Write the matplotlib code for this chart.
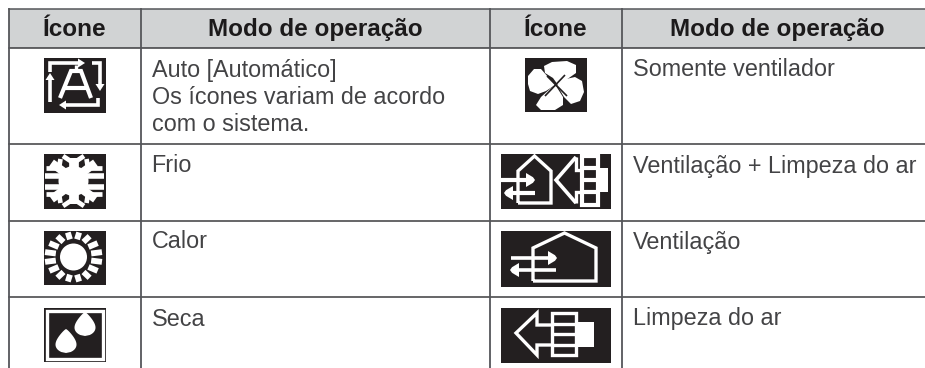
#!/usr/bin/env python3
import numpy as np
import matplotlib
matplotlib.use("Agg")
import matplotlib.pyplot as plt
from matplotlib.patches import Rectangle, Circle, Polygon

headers = ["Ícone", "Modo de operação", "Ícone", "Modo de operação"]
left_modes = [
    ["Auto [Automático]", "Os ícones variam de acordo", "com o sistema."],
    ["Frio"],
    ["Calor"],
    ["Seca"],
]
right_modes = [
    ["Somente ventilador"],
    ["Ventilação + Limpeza do ar"],
    ["Ventilação"],
    ["Limpeza do ar"],
]

DARK = "#231f20"
LINE = "#55565a"
TEXT = "#434345"
FONT = "Liberation Sans"

col_x = [8.5, 141, 489.5, 622]
row_y = [47.5, 144, 220.5, 297]
baselines = [76.5, 172.5, 248.5, 325.5]
header_centers = [75, 315, 556, 777.5]
LINE_STEP = 27.4


def setup():
    fig = plt.figure(figsize=(9.25, 3.68), dpi=100)
    ax = fig.add_axes([0, 0, 1, 1])
    ax.set_xlim(0, 925)
    ax.set_ylim(368, 0)
    ax.axis("off")
    return fig, ax


def seg(ax, pts, lw=2.2, color="white", clip=None):
    pts = np.array(pts, dtype=float)
    ln, = ax.plot(pts[:, 0], pts[:, 1], color=color, lw=lw, solid_capstyle="butt",
                  solid_joinstyle="miter", zorder=4)
    if clip is not None:
        ln.set_clip_path(clip)


def blob(ax, pts, color="white"):
    ax.add_patch(Polygon(pts, closed=True, color=color, lw=0, zorder=4))


def back(ax, x0, y0, x1, y1):
    r = Rectangle((x0, y0), x1 - x0, y1 - y0, color=DARK, lw=0, zorder=3)
    ax.add_patch(r)
    return r


def head_right(ax, x, y, s=7):
    blob(ax, [(x - s, y - s), (x, y - s * 0.4), (x + 2, y), (x, y + s * 0.4), (x - s, y + s)])


def head_left(ax, x, y, s=7):
    blob(ax, [(x + s, y - s), (x, y - s * 0.4), (x - 2, y), (x, y + s * 0.4), (x + s, y + s)])


def icon_auto(ax):
    back(ax, 44, 58, 106, 113)
    seg(ax, [(50, 72), (50, 63), (80, 63)], lw=2.6)
    blob(ax, [(78, 58.5), (85, 63), (78, 67.5)])
    seg(ax, [(92, 63), (100, 63), (100, 86)], lw=2.6)
    blob(ax, [(95.5, 84), (100, 91), (104.5, 84)])
    seg(ax, [(98, 98), (98, 105), (64, 105)], lw=2.6)
    blob(ax, [(66, 100.5), (59, 105), (66, 109.5)])
    seg(ax, [(50, 102), (50, 78)], lw=2.6)
    blob(ax, [(45.5, 80), (50, 73), (54.5, 80)])
    seg(ax, [(60, 98), (71, 71), (81, 71), (91, 98)], lw=3)
    seg(ax, [(65, 88), (86, 88)], lw=3)
    seg(ax, [(76, 65), (76, 71)], lw=2.4)


def icon_snow(ax):
    back(ax, 44, 154, 106, 209)
    ax.add_patch(Circle((73.5, 181), 15, color="white", lw=0, zorder=4))
    for x0, x1 in [(45, 62), (85, 104)]:
        seg(ax, [(x0, 175.5), (x1, 175.5)], lw=4)
        seg(ax, [(x0, 187), (x1, 187)], lw=4)
    seg(ax, [(73.5, 158), (73.5, 172)], lw=7)
    seg(ax, [(73.5, 190), (73.5, 204)], lw=7)
    seg(ax, [(63, 156), (73.5, 163), (84, 156)], lw=3.4)
    seg(ax, [(63, 206), (73.5, 199), (84, 206)], lw=3.4)
    for sx in (-1, 1):
        for sy in (-1, 1):
            seg(ax, [(73.5 + sx * 8, 181 + sy * 8), (73.5 + sx * 22, 181 + sy * 18)], lw=6)
            seg(ax, [(73.5 + sx * 13, 181 + sy * 22), (73.5 + sx * 15, 181 + sy * 10)], lw=3.4)
            seg(ax, [(73.5 + sx * 28, 181 + sy * 13), (73.5 + sx * 17, 181 + sy * 13)], lw=3.4)


def icon_sun(ax):
    r = back(ax, 44, 231, 106, 285)
    ax.add_patch(Circle((73.5, 257), 13.5, color="white", lw=0, zorder=4))
    for a in np.deg2rad(np.arange(11.25, 360, 22.5)):
        seg(ax, [(73.5 + 18 * np.cos(a), 257 + 18 * np.sin(a)),
                 (73.5 + 29 * np.cos(a), 257 + 25 * np.sin(a))], lw=4.2, clip=r)


def drop(ax, cx, top, w, h):
    y = np.linspace(0, 1, 25)
    half = w / 2 * np.sqrt(np.clip(np.sin(np.pi * y ** 1.6), 0, 1))
    pts = [(cx + a, top + b * h) for a, b in zip(half, y)]
    pts += [(cx - a, top + b * h) for a, b in zip(half[::-1], y[::-1])]
    blob(ax, pts)


def icon_dry(ax):
    back(ax, 44, 308, 106, 362)
    ax.add_patch(Rectangle((47.3, 311.3), 55.4, 47.4, fill=False, ec="white", lw=2.4, zorder=4))
    drop(ax, 66, 329, 21, 24)
    drop(ax, 85, 312, 21, 24)


def icon_fan(ax):
    back(ax, 525, 58, 587, 112)
    blob(ax, [(544, 66), (552, 62), (567, 61), (576, 65), (576, 73), (566, 80), (558, 85), (553, 78), (545, 73)])
    blob(ax, [(528, 76), (534, 69), (541, 69), (548, 77), (555, 85), (546, 91), (538, 94), (530, 91), (528, 84)])
    blob(ax, [(584, 92), (580, 101), (571, 104), (564, 97), (557, 85), (566, 79), (575, 77), (582, 81)])
    blob(ax, [(536, 105), (541, 97), (551, 88), (556, 86), (563, 97), (563, 105), (555, 110), (541, 110)])
    seg(ax, [(547, 76), (567, 96)], lw=1.2, color=DARK)
    seg(ax, [(565, 75), (545, 96)], lw=1.2, color=DARK)


def house(ax, x0, x1, roof, peak, bottom, lw=2.4):
    mid = (x0 + x1) / 2
    seg(ax, [(x0, bottom), (x0, roof), (mid, peak), (x1, roof), (x1, bottom), (x0, bottom)], lw=lw)


def filter_box(ax, x0, x1, y0, y1, dividers, lw=2.4):
    ax.add_patch(Rectangle((x0, y0), x1 - x0, y1 - y0, fill=False, ec="white", lw=lw, zorder=4))
    for y in dividers:
        seg(ax, [(x0, y), (x1, y)], lw=lw)


def icon_vent_clean(ax):
    back(ax, 501, 154, 611, 209)
    house(ax, 518, 551, 171, 156, 203)
    seg(ax, [(501, 180), (530, 180)], lw=3)
    head_right(ax, 533, 180)
    seg(ax, [(510, 193), (535, 193)], lw=3)
    head_left(ax, 506, 193)
    seg(ax, [(576, 157), (556, 180), (576, 203)], lw=2.6)
    seg(ax, [(576, 157), (576, 170), (582, 170)], lw=2.4)
    seg(ax, [(576, 203), (576, 192), (582, 192)], lw=2.4)
    filter_box(ax, 582, 598, 156, 205, [168, 180, 192], lw=3)
    ax.add_patch(Rectangle((598, 168), 10, 24, color="white", lw=0, zorder=4))


def icon_vent(ax):
    back(ax, 501, 231, 611, 287)
    house(ax, 533, 596, 248, 233, 281)
    seg(ax, [(511, 258), (552, 258)], lw=2.6)
    head_right(ax, 555, 258)
    seg(ax, [(517, 270), (556, 270)], lw=2.6)
    head_left(ax, 512, 270)


def icon_clean(ax):
    back(ax, 501, 308, 611, 363)
    seg(ax, [(552, 325), (537, 325), (537, 313), (516, 333), (537, 355), (537, 345), (552, 345)], lw=2.4)
    filter_box(ax, 552, 576, 313, 355, [324, 334, 345])
    ax.add_patch(Rectangle((577, 322), 17, 25, color="white", lw=0, zorder=4))


def draw_table(ax):
    ax.add_patch(Rectangle((col_x[0], 9), 925 - col_x[0], row_y[0] - 9, color="#d1d3d4", lw=0, zorder=1))
    ax.plot([col_x[0], 925], [9, 9], color=LINE, lw=1.1, zorder=2)
    for y in row_y:
        ax.plot([col_x[0], 925], [y, y], color="#3c3c3e", lw=1.1, zorder=2)
    for x in col_x:
        ax.plot([x, x], [9, 368], color=LINE, lw=1.3, zorder=2)


def draw_text(ax):
    for label, cx in zip(headers, header_centers):
        ax.text(cx, 36, label, ha="center", va="baseline", fontsize=17.5, fontweight="bold",
                family=FONT, color="#1c1a1b", zorder=5)
    for modes, x in ((left_modes, 151.5), (right_modes, 633)):
        for lines, base in zip(modes, baselines):
            for i, line in enumerate(lines):
                ax.text(x, base + i * LINE_STEP, line, ha="left", va="baseline", fontsize=16.8,
                        family=FONT, color=TEXT, zorder=5)


def main():
    fig, ax = setup()
    draw_table(ax)
    icon_auto(ax)
    icon_snow(ax)
    icon_sun(ax)
    icon_dry(ax)
    icon_fan(ax)
    icon_vent_clean(ax)
    icon_vent(ax)
    icon_clean(ax)
    draw_text(ax)
    fig.savefig("out.png", dpi=100)


if __name__ == "__main__":
    main()
